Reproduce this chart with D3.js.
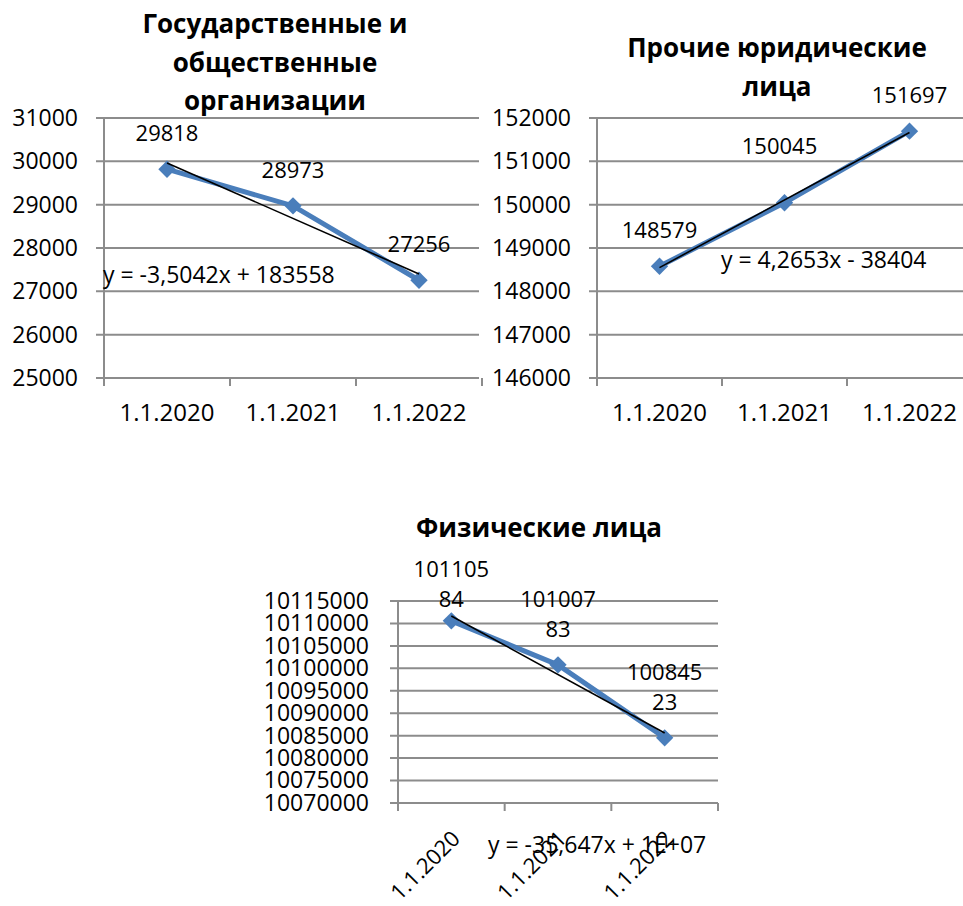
<!DOCTYPE html>
<html>
<head>
<meta charset="utf-8">
<script src="https://cdn.jsdelivr.net/npm/d3@7/dist/d3.min.js"></script>
<style>
  html, body { margin: 0; padding: 0; background: #fff; }
  svg { display: block; }
  text { font-family: "Open Sans", "Noto Sans", sans-serif; fill: #000; }
</style>
</head>
<body>
<svg id="chart" width="963" height="906"></svg>
<script>
// Dates shown on every category axis
const categories = ["1.1.2020", "1.1.2021", "1.1.2022"];

// Государственные и общественные организации
const govValues = [29818, 28973, 27256];
const govTicks = [25000, 26000, 27000, 28000, 29000, 30000, 31000];
const govEquation = "y = -3,5042x + 183558";

// Прочие юридические лица
const legalValues = [148579, 150045, 151697];
const legalTicks = [146000, 147000, 148000, 149000, 150000, 151000, 152000];
const legalEquation = "y = 4,2653x - 38404";

// Физические лица
const personValues = [10110584, 10100783, 10084523];
const personTicks = [10070000, 10075000, 10080000, 10085000, 10090000,
                     10095000, 10100000, 10105000, 10110000, 10115000];
const personEquation = "y = -35,647x + 1E+07";

const svg = d3.select("#chart");
const BLUE = "#4A7EBB";
const GRID = "#8C8C8C";

// Least-squares line over category positions 1..n
function trend(values) {
  const xs = values.map((_, i) => i + 1);
  const mx = d3.mean(xs), my = d3.mean(values);
  const slope = d3.sum(xs, (x, i) => (x - mx) * (values[i] - my)) /
                d3.sum(xs, x => (x - mx) * (x - mx));
  return xs.map(x => my + slope * (x - mx));
}

function drawChart(cfg) {
  const g = svg.append("g");

  const x = d3.scaleBand().domain(categories).range([cfg.left, cfg.right]);
  const y = d3.scaleLinear().domain(d3.extent(cfg.ticks)).range([cfg.bottom, cfg.top]);

  // title
  const title = g.append("text")
    .attr("text-anchor", "middle")
    .style("font-weight", "bold")
    .style("font-size", "26px");
  cfg.title.forEach((line, i) => {
    title.append("tspan").attr("x", cfg.titleX).attr("y", cfg.titleY + i * 38.5).text(line);
  });

  // horizontal gridlines
  g.append("g").selectAll("line").data(cfg.ticks).join("line")
    .attr("x1", cfg.left - 8).attr("x2", cfg.gridEnd)
    .attr("y1", d => y(d)).attr("y2", d => y(d))
    .attr("stroke", GRID).attr("stroke-width", 2);

  // value axis
  const yAxis = d3.axisLeft(y).tickValues(cfg.ticks).tickSize(0).tickPadding(cfg.tickPad)
    .tickFormat(d3.format("d"));
  const ya = g.append("g").attr("transform", `translate(${cfg.left},0)`).call(yAxis);
  ya.select(".domain").remove();
  ya.selectAll("text").style("font-size", "23px").style("font-family", null).attr("fill", "#000");
  g.append("line")
    .attr("x1", cfg.left).attr("x2", cfg.left)
    .attr("y1", cfg.top).attr("y2", cfg.bottom + 8)
    .attr("stroke", GRID).attr("stroke-width", 2);

  // category tick marks on band boundaries
  const bounds = categories.map(c => x(c)).concat([cfg.right]);
  g.append("g").selectAll("line").data(bounds).join("line")
    .attr("x1", d => d).attr("x2", d => d)
    .attr("y1", cfg.bottom).attr("y2", cfg.bottom + 8)
    .attr("stroke", GRID).attr("stroke-width", 2);

  // category labels
  const cx = c => x(c) + x.bandwidth() / 2;
  const labels = g.append("g").selectAll("text").data(categories).join("text")
    .text(d => d);
  if (cfg.rotate) {
    labels.attr("text-anchor", "end")
      .style("font-size", "22px")
      .attr("transform", d => `translate(${cx(d) + 10},${cfg.bottom + 37}) rotate(-45)`);
  } else {
    labels.attr("text-anchor", "middle")
      .style("font-size", "24px")
      .attr("x", d => cx(d)).attr("y", cfg.bottom + 43);
  }

  // series line
  const line = d3.line().x((d, i) => cx(categories[i])).y(d => y(d));
  g.append("path").datum(cfg.values)
    .attr("d", line).attr("fill", "none")
    .attr("stroke", BLUE).attr("stroke-width", 5).attr("stroke-linejoin", "round");

  // diamond markers
  const diamond = d3.symbol().type(d3.symbolSquare).size(150);
  g.append("g").selectAll("path").data(cfg.values).join("path")
    .attr("d", diamond)
    .attr("transform", (d, i) => `translate(${cx(categories[i])},${y(d)}) rotate(45)`)
    .attr("fill", BLUE);

  // linear trendline
  const fit = trend(cfg.values);
  g.append("line")
    .attr("x1", cx(categories[0])).attr("y1", y(fit[0]))
    .attr("x2", cx(categories[fit.length - 1])).attr("y2", y(fit[fit.length - 1]))
    .attr("stroke", "#000").attr("stroke-width", 1.6);

  // data labels above the points
  cfg.values.forEach((v, i) => {
    const parts = cfg.wrap ? [String(v).slice(0, 6), String(v).slice(6)] : [String(v)];
    const base = y(v) - 28 + (cfg.labelShift[i] || 0);
    const t = g.append("text").attr("text-anchor", "middle").style("font-size", "22px");
    parts.forEach((p, k) => {
      t.append("tspan")
        .attr("x", cx(categories[i]) + (cfg.labelDx[i] || 0))
        .attr("y", base - (parts.length - 1 - k) * 29.5)
        .text(p);
    });
  });

  // trendline equation
  g.append("text")
    .attr("x", cfg.eqX).attr("y", cfg.eqY)
    .style("font-size", "23px")
    .text(cfg.equation);
}

drawChart({
  title: ["Государственные и", "общественные", "организации"],
  titleX: 275, titleY: 33,
  values: govValues, ticks: govTicks, equation: govEquation,
  left: 104, right: 482, gridEnd: 479, top: 118, bottom: 378, tickPad: 26,
  labelShift: [0, 0, 0], labelDx: [0, 0, 0],
  eqX: 103, eqY: 283
});

drawChart({
  title: ["Прочие юридические", "лица"],
  titleX: 777, titleY: 57,
  values: legalValues, ticks: legalTicks, equation: legalEquation,
  left: 597, right: 972, gridEnd: 963, top: 118, bottom: 378, tickPad: 26,
  labelShift: [0, -21, 0], labelDx: [0, -5, 0],
  eqX: 721, eqY: 268
});

drawChart({
  title: ["Физические лица"],
  titleX: 539, titleY: 537,
  values: personValues, ticks: personTicks, equation: personEquation,
  left: 398, right: 718, gridEnd: 718, top: 601, bottom: 803, tickPad: 29,
  labelShift: [14, 0, 0], labelDx: [0, 0, 0],
  wrap: true, rotate: true,
  eqX: 488, eqY: 853
});
</script>
</body>
</html>
